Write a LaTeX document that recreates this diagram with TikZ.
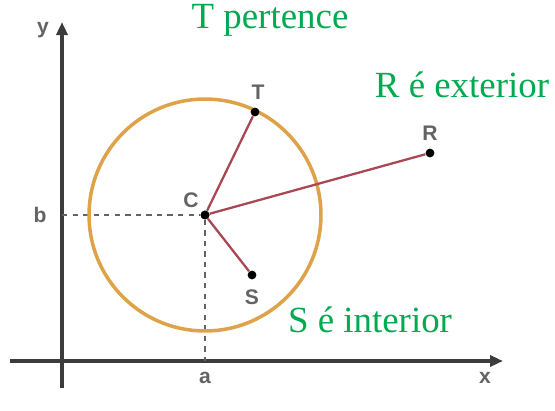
\documentclass[tikz,border=0pt]{standalone}
\usepackage{fontspec}
\setmainfont{Liberation Serif}
\setsansfont{Liberation Sans}
\usetikzlibrary{arrows.meta,positioning,calc}
\definecolor{verde}{RGB}{0,170,80}
\definecolor{laranja}{RGB}{222,162,72}
\definecolor{vinho}{RGB}{168,72,84}
\definecolor{cinza}{RGB}{60,60,60}

\begin{document}
\begin{tikzpicture}[x=0.02cm,y=-0.02cm,
	ponto/.style={circle,fill=black,inner sep=0pt,minimum size=5pt},
	rotulo/.style={font=\sffamily\bfseries\large,text=cinza!80},
	frase/.style={font=\fontsize{21}{25}\selectfont,text=verde},
	eixo/.style={line width=2.2pt,cinza,-{Triangle[length=2.6mm,width=2.2mm]}},
	guia/.style={dashed,thick,cinza!80},
	raio/.style={line width=1.3pt,vinho}]
	\useasboundingbox (0,0) rectangle (555,410);
	
	% axes
	\coordinate (xi) at (10,361);
	\coordinate (xf) at (503,361);
	\coordinate (yi) at (62,388);
	\coordinate (yf) at (62,22);
	\draw[eixo] (xi)--(xf);
	\draw[eixo] (yi)--(yf);
	\node[rotulo] (labx) at (485,378) {x};
	\node[rotulo] (laby) at (43,30) {y};
	
	% center and projections
	\node[ponto] (C) at (205,215) {};
	\coordinate (Cb) at (62,215);
	\coordinate (Ca) at (205,361);
	\draw[guia] (Cb)--(C);
	\draw[guia] (C)--(Ca);
	\node[rotulo] (labb) at (40,215) {b};
	\node[rotulo] (laba) at (205,378) {a};
	
	% circle
	\draw[laranja,line width=2pt] (C) circle (2.32cm);
	
	% points
	\node[ponto] (T) at (255,112) {};
	\node[ponto] (R) at (430,153) {};
	\node[ponto] (S) at (252,275) {};
	\draw[raio] (C)--(T);
	\draw[raio] (C)--(R);
	\draw[raio] (C)--(S);
	\node[ponto] at (C) {};
	
	\node[rotulo] (labC) at (191,200) {C};
	\node[rotulo] (labT) at (258,92) {T};
	\node[rotulo] (labR) at (430,133) {R};
	\node[rotulo] (labS) at (252,297) {S};
	
	% statements
	\node[frase] (fT) at (270,20) {T pertence};
	\node[frase] (fR) at (462,85) {R é exterior};
	\node[frase] (fS) at (370,320) {S é interior};
\end{tikzpicture}
\end{document}
